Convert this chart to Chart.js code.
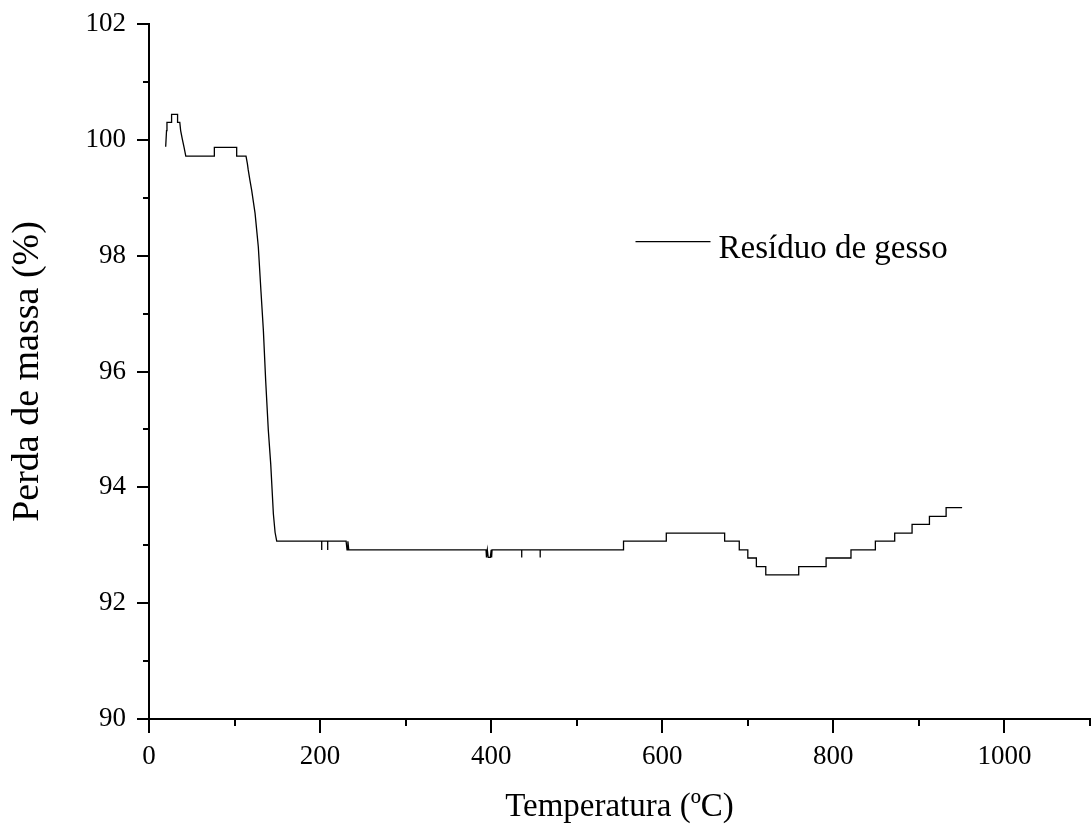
<!DOCTYPE html>
<html>
<head>
<meta charset="utf-8">
<script src="https://cdn.jsdelivr.net/npm/chart.js@4.4.1/dist/chart.umd.min.js"></script>
<style>
html,body{margin:0;padding:0;background:#fff;}
#wrap{width:1092px;height:827px;}
</style>
</head>
<body>
<div id="wrap"><canvas id="c" width="1092" height="827" style="width:1092px;height:827px"></canvas></div>
<script>
// ---- data ----
const seriesName = 'Resíduo de gesso';
const xTitle = 'Temperatura (ºC)';
const yTitle = 'Perda de massa (%)';
const xMajorTicks = [0, 200, 400, 600, 800, 1000];
const yMajorTicks = [90, 92, 94, 96, 98, 100, 102];
const temperature = [19.5, 20.5, 21, 26.4, 26.4, 33.4, 33.4, 36, 37, 39, 41, 43, 76.4, 76.4, 102.5, 102.5, 113.4, 115, 116, 118, 120, 124, 127.8, 130.9, 133.7, 136.4, 139.5, 142.3, 145.4, 147.4, 149.3, 201.9, 201.9, 201.9, 208.9, 208.9, 208.9, 230.4, 231.5, 232.5, 233.5, 394, 394.5, 395.5, 396.5, 399, 400, 400.5, 401, 435.7, 435.7, 435.7, 457.3, 457.3, 457.3, 554.7, 554.7, 604.7, 604.7, 672.9, 672.9, 690, 690, 700, 700, 710, 710, 721, 721, 759.5, 759.5, 791.5, 791.5, 820.6, 820.6, 849.1, 849.1, 871.7, 871.7, 892, 892, 912.3, 912.3, 931.8, 931.8, 950.5];
const mass = [99.88, 100.16, 100.30, 100.30, 100.44, 100.44, 100.30, 100.30, 100.16, 100.01, 99.87, 99.72, 99.72, 99.87, 99.87, 99.72, 99.72, 99.59, 99.48, 99.30, 99.13, 98.73, 98.15, 97.38, 96.71, 95.84, 94.98, 94.40, 93.54, 93.22, 93.07, 93.07, 92.92, 93.07, 93.07, 92.92, 93.07, 93.07, 92.92, 93.07, 92.92, 92.92, 92.79, 92.92, 92.79, 92.79, 92.92, 92.79, 92.92, 92.92, 92.79, 92.92, 92.92, 92.79, 92.92, 92.92, 93.07, 93.07, 93.21, 93.21, 93.07, 93.07, 92.92, 92.92, 92.78, 92.78, 92.63, 92.63, 92.49, 92.49, 92.63, 92.63, 92.78, 92.78, 92.92, 92.92, 93.07, 93.07, 93.21, 93.21, 93.36, 93.36, 93.50, 93.50, 93.65, 93.65];

const points = temperature.map((t, i) => ({x: t, y: mass[i]}));
const FONT = "'Liberation Serif', 'Times New Roman', serif";

const ticksPlugin = {
  id: 'originTicks',
  afterDraw(chart) {
    const ctx = chart.ctx;
    const xs = chart.scales.x, ys = chart.scales.y;
    const ca = chart.chartArea;
    ctx.save();
    ctx.strokeStyle = '#000';
    ctx.lineWidth = 2;
    ctx.lineCap = 'butt';
    // x ticks
    for (let v = xs.min; v <= xs.max + 1e-9; v += 100) {
      const px = Math.round(xs.getPixelForValue(v));
      const major = xMajorTicks.includes(v);
      const len = major ? 14 : 7;
      ctx.beginPath();
      ctx.moveTo(px, ca.bottom);
      ctx.lineTo(px, ca.bottom + len);
      ctx.stroke();
    }
    // y ticks
    for (let v = ys.min; v <= ys.max + 1e-9; v += 1) {
      const py = Math.round(ys.getPixelForValue(v));
      const major = yMajorTicks.includes(v);
      const len = major ? 12 : 6;
      ctx.beginPath();
      ctx.moveTo(ca.left, py);
      ctx.lineTo(ca.left - len, py);
      ctx.stroke();
    }
    // legend
    const lx = ca.left + (ca.right - ca.left) * 0.517;
    const ly = ca.top + (ca.bottom - ca.top) * 0.313;
    ctx.lineWidth = 1.3;
    ctx.beginPath();
    ctx.moveTo(lx, ly);
    ctx.lineTo(lx + 75, ly);
    ctx.stroke();
    ctx.fillStyle = '#000';
    ctx.font = "33px " + FONT;
    ctx.textBaseline = 'alphabetic';
    ctx.textAlign = 'left';
    ctx.fillText(seriesName, lx + 83, ly + 16);
    ctx.restore();
  }
};

new Chart(document.getElementById('c'), {
  type: 'scatter',
  data: {
    datasets: [{
      label: seriesName,
      data: points,
      showLine: true,
      borderColor: '#000',
      borderWidth: 1.3,
      pointRadius: 0,
      tension: 0,
      fill: false
    }]
  },
  options: {
    responsive: false,
    animation: false,
    devicePixelRatio: 1,
    layout: {padding: {top: 24, right: 2, left: 0, bottom: 0}},
    plugins: {legend: {display: false}, tooltip: {enabled: false}},
    scales: {
      x: {
        type: 'linear',
        min: 0, max: 1100,
        afterFit(s) { s.height = 108; s.paddingLeft = 0; s.paddingRight = 0; },
        grid: {display: false, drawTicks: false, tickLength: 0},
        border: {display: true, color: '#000', width: 2},
        ticks: {
          stepSize: 100, autoSkip: false, maxRotation: 0, padding: 22,
          color: '#000', font: {family: FONT, size: 27},
          callback: v => xMajorTicks.includes(v) ? String(v) : ''
        },
        title: {display: true, text: xTitle, color: '#000', font: {family: FONT, size: 33}, padding: {top: 0, bottom: 0}}
      },
      y: {
        type: 'linear',
        min: 90, max: 102,
        afterFit(s) { s.width = 149; s.paddingTop = 0; s.paddingBottom = 0; },
        grid: {display: false, drawTicks: false, tickLength: 0},
        border: {display: true, color: '#000', width: 2},
        ticks: {
          stepSize: 1, autoSkip: false, padding: 23,
          color: '#000', font: {family: FONT, size: 27},
          callback: v => yMajorTicks.includes(v) ? String(v) : ''
        },
        title: {display: true, text: yTitle, color: '#000', font: {family: FONT, size: 38}, padding: {top: 5, bottom: 0}}
      }
    }
  },
  plugins: [ticksPlugin]
});
</script>
</body>
</html>
